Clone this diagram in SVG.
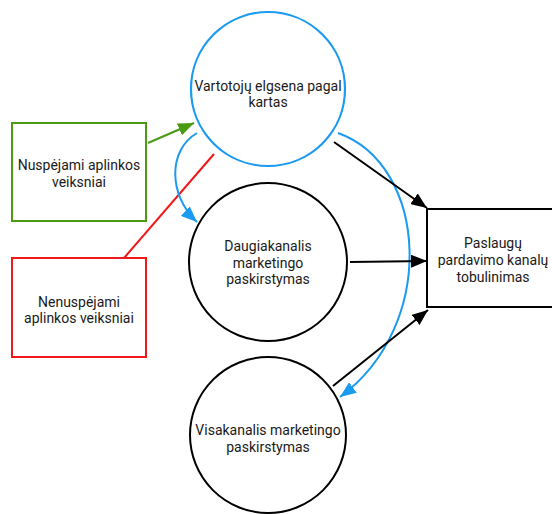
<svg xmlns="http://www.w3.org/2000/svg" width="552" height="514" viewBox="0 0 552 514">
<style>
text{font-family:Roboto,"Liberation Sans",sans-serif;font-size:14px;fill:#1a1a1a;text-anchor:middle;dominant-baseline:central}
.c{fill:#fff;stroke:#000;stroke-width:2}
.cb{fill:#fff;stroke:#1a9af0;stroke-width:2.2}
.ln{fill:none;stroke-width:2}
</style>
<defs>
<marker id="ak" viewBox="0 0 16 13" refX="16" refY="6.5" markerWidth="16" markerHeight="13" markerUnits="userSpaceOnUse" orient="auto"><path d="M0,0L16,6.5L0,13z" fill="#000"/></marker>
<marker id="ab" viewBox="0 0 16 13" refX="16" refY="6.5" markerWidth="16" markerHeight="13" markerUnits="userSpaceOnUse" orient="auto"><path d="M0,0L16,6.5L0,13z" fill="#1a9af0"/></marker>
<marker id="ag" viewBox="0 0 16 13" refX="16" refY="6.5" markerWidth="16" markerHeight="13" markerUnits="userSpaceOnUse" orient="auto"><path d="M0,0L16,6.5L0,13z" fill="#4a9a12"/></marker>
</defs>
<g id="n-vartotoju">
<circle class="cb" cx="268" cy="89" r="77"/>
<text x="268" y="86">Vartotojų elgsena pagal</text>
<text x="268" y="102">kartas</text>
</g>
<g id="n-daugiakanalis">
<circle class="c" cx="268" cy="262" r="79"/>
<text x="268" y="246">Daugiakanalis</text>
<text x="268" y="263">marketingo</text>
<text x="268" y="279">paskirstymas</text>
</g>
<g id="n-visakanalis">
<circle class="c" cx="268" cy="435" r="78"/>
<text x="268" y="430">Visakanalis marketingo</text>
<text x="268" y="447">paskirstymas</text>
</g>
<g id="n-paslaugu">
<rect x="427" y="209" width="132" height="98" fill="#fff" stroke="#000" stroke-width="2"/>
<text x="493" y="243">Paslaugų</text>
<text x="493" y="260">pardavimo kanalų</text>
<text x="493" y="277">tobulinimas</text>
</g>
<g id="n-nuspejami">
<rect x="12" y="123" width="134" height="98" fill="#fff" stroke="#4a9a12" stroke-width="2"/>
<text x="79" y="165">Nuspėjami aplinkos</text>
<text x="79" y="182">veiksniai</text>
</g>
<g id="n-nenuspejami">
<rect x="12" y="258" width="134" height="99" fill="#fff" stroke="#f01818" stroke-width="2"/>
<text x="79" y="302">Nenuspėjami</text>
<text x="79" y="318">aplinkos veiksniai</text>
</g>
<g id="connectors">
<path class="ln" stroke="#4a9a12" d="M148,143L194,123" marker-end="url(#ag)"/>
<path class="ln" stroke="#f01818" d="M124,258L214,154"/>
<path class="ln" stroke="#1a9af0" d="M197,133C168,150 168,195 197,222" marker-end="url(#ab)"/>
<path class="ln" stroke="#1a9af0" d="M338,133C428,165 438,325 340,397" marker-end="url(#ab)"/>
<path class="ln" stroke="#000" d="M334,142L427,208" marker-end="url(#ak)"/>
<path class="ln" stroke="#000" d="M350,262L427,261" marker-end="url(#ak)"/>
<path class="ln" stroke="#000" d="M333,386L428,310" marker-end="url(#ak)"/>
</g>
</svg>
